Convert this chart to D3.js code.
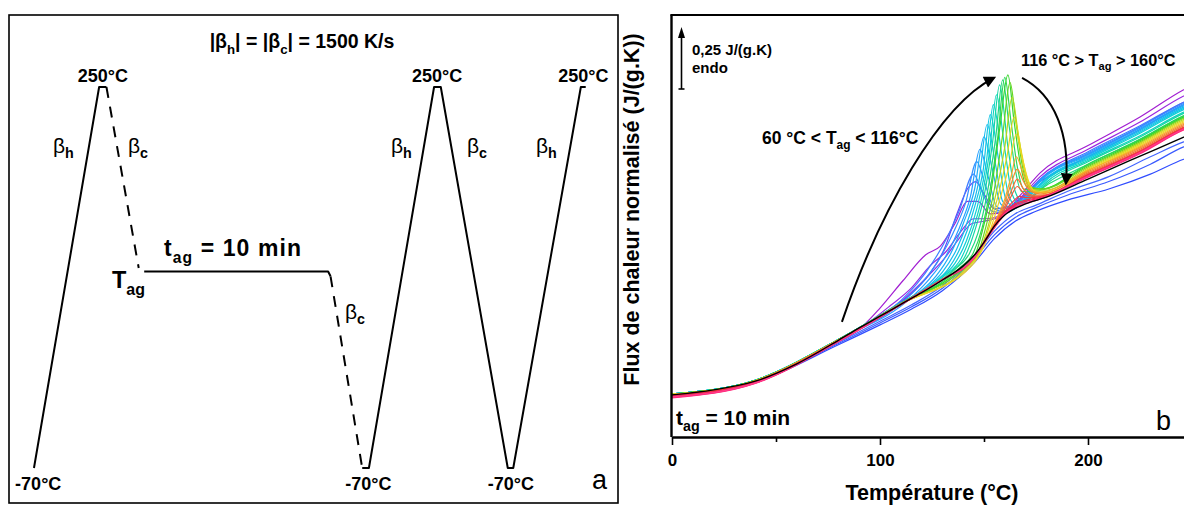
<!DOCTYPE html>
<html><head><meta charset="utf-8">
<script src="https://cdn.jsdelivr.net/npm/d3@7"></script>
<style>
html,body{margin:0;padding:0;background:#fff;}
svg{display:block;}
text{font-family:"Liberation Sans",Arial,sans-serif;}
</style></head>
<body>
<svg id="chart" width="1184" height="505"></svg>
<script>
// ---------------- DATA ----------------
// Panel a: thermal program (time in arbitrary units, temperature in °C)
const heat1 = [[4.1,-70],[14.8,250],[16.0,250]];
const cool1 = [[16.0,250],[21.3,98]];
const iso   = [[22.2,95],[52.4,95],[52.8,91]];
const cool2 = [[52.8,91],[58.0,-70]];
const cycles= [[58.0,-70],[59.1,-70],[69.8,250],[70.9,250],[81.9,-70],[82.8,-70],[93.9,250],[94.7,250]];
const peakLabels = [[15.4,250],[70.3,250],[94.3,250]];
const valleyLabels = [[4.8,-70],[59.0,-70],[82.4,-70]];

// Panel b: normalized heat flow J/(g.K) vs temperature °C
const xTicks = [0,100,200];
const xMinorTicks = [50,150];
const scaleBarValue = 0.25;

const refCurve = [[0,.17],[20,.19],[40,.225],[60,.295],[80,.39],[90,.44],[100,.487],[110,.535],[120,.582],[130,.633],[140,.69],[146,.74],[150,.785],[155,.85],[160,.895],[165,.922],[170,.94],[180,.967],[200,1.04],[220,1.114],[240,1.187],[260,1.26]];

const blueCurves = [
 [[0,.165],[40,.22],[80,.372],[100,.452],[115,.515],[130,.59],[145,.70],[155,.80],[165,.87],[175,.91],[190,.955],[210,1.0],[230,1.06],[246,1.12],[265,1.16]],
 [[0,.168],[40,.222],[80,.377],[100,.46],[115,.524],[130,.6],[145,.715],[155,.815],[165,.885],[175,.925],[190,.975],[210,1.03],[230,1.1],[246,1.17],[265,1.21]],
 [[0,.17],[40,.224],[80,.382],[100,.467],[115,.532],[130,.61],[145,.725],[155,.83],[165,.9],[175,.935],[190,.99],[210,1.05],[230,1.13],[246,1.19],[265,1.235]]
];
const purpleCurves = [
 [[0,.17],[40,.226],[80,.39],[92,.45],[100,.52],[111,.63],[122,.735],[129,.77],[136,.86],[142,.95],[147,.95],[153,.9],[160,.91],[168,.98],[177,1.065],[200,1.175],[225,1.29],[246,1.40],[265,1.47]],
 [[0,.17],[40,.226],[80,.39],[95,.465],[105,.53],[115,.6],[124,.69],[132,.75],[139,.83],[145,.88],[151,.88],[157,.89],[167,.96],[177,1.05],[200,1.16],[225,1.27],[246,1.375],[265,1.44]],
 [[0,.17],[40,.226],[80,.39],[100,.49],[112,.56],[122,.64],[131,.72],[138,.8],[144,.86],[150,.87],[157,.885],[167,.95],[177,1.04],[200,1.14],[225,1.25],[246,1.35],[265,1.41]],
 [[0,.17],[40,.226],[80,.39],[100,.49],[114,.57],[124,.66],[131,.76],[137,.9],[142,1.0],[146,1.03],[150,.98],[155,.92],[162,.93],[177,1.03],[200,1.13],[225,1.24],[246,1.34],[265,1.40]]
];
const cyanCurves = [
 [[0,.174],[40,.229],[80,.393],[110,.55],[118,.62],[125,.70],[132,.80],[138,.91],[145,1.06],[149,.99],[154,.91],[160,.905],[168,.96],[177,1.04],[200,1.15],[225,1.255],[246,1.35],[265,1.41]],
 [[0,.174],[40,.229],[80,.393],[113,.56],[121,.63],[128,.71],[135,.82],[141,.94],[146.5,1.11],[150.5,1.02],[155,.92],[161,.905],[169,.96],[177,1.035],[200,1.145],[225,1.25],[246,1.345],[265,1.405]],
 [[0,.174],[40,.229],[80,.393],[116,.57],[124,.64],[131,.72],[138,.84],[143.5,.97],[148,1.16],[152,1.05],[156,.93],[162,.91],[170,.965],[177,1.035],[200,1.14],[225,1.245],[246,1.34],[265,1.40]],
 [[0,.174],[40,.229],[80,.393],[110,.54],[119,.585],[127,.65],[134,.74],[140,.86],[145.5,1.0],[150,1.21],[154,1.08],[158,.94],[163,.915],[171,.97],[177,1.03],[200,1.135],[225,1.24],[246,1.335],[265,1.395]],
 [[0,.174],[40,.229],[80,.393],[110,.54],[122,.6],[130,.665],[137,.76],[142.5,.88],[147.5,1.03],[151.5,1.26],[155.5,1.1],[159,.95],[164,.92],[172,.975],[178,1.03],[200,1.13],[225,1.235],[246,1.33],[265,1.39]],
 [[0,.174],[40,.229],[80,.393],[110,.54],[125,.615],[133,.68],[139,.77],[144.5,.9],[149.5,1.07],[153,1.30],[157,1.12],[160.5,.96],[165,.925],[172,.97],[178,1.025],[200,1.125],[225,1.23],[246,1.325],[265,1.385]],
 [[0,.174],[40,.229],[80,.393],[110,.54],[128,.635],[136,.70],[141.5,.79],[146.5,.92],[151,1.1],[154.5,1.34],[158.5,1.14],[162,.97],[166,.93],[173,.97],[178,1.02],[200,1.12],[225,1.225],[246,1.32],[265,1.38]],
 [[0,.174],[40,.229],[80,.393],[110,.54],[131,.65],[139,.72],[143.5,.81],[148.5,.95],[152.5,1.14],[156,1.38],[160,1.16],[163.5,.98],[167,.94],[174,.975],[179,1.02],[200,1.115],[225,1.215],[246,1.31],[265,1.37]],
 [[0,.174],[40,.229],[80,.393],[110,.54],[134,.665],[141,.73],[145.5,.83],[150,.97],[154,1.18],[157.5,1.42],[161.5,1.17],[165,.99],[168.5,.95],[175,.98],[180,1.02],[200,1.11],[225,1.21],[246,1.305],[265,1.365]]
];
const greenCurves = [
 [[0,.173],[40,.228],[80,.392],[110,.537],[136,.675],[143,.74],[147,.82],[151.5,.98],[155.5,1.2],[159,1.44],[162,1.26],[165,1.08],[168,.99],[175,.99],[181,1.02],[200,1.1],[225,1.2],[246,1.295],[265,1.355]],
 [[0,.173],[40,.228],[80,.392],[110,.537],[138,.68],[145,.745],[149,.84],[153,1.0],[156.5,1.2],[160,1.45],[163,1.27],[166,1.09],[169,1.0],[176,.995],[200,1.1],[225,1.2],[246,1.295],[265,1.355]],
 [[0,.173],[40,.228],[80,.392],[110,.537],[140,.685],[146,.74],[149.5,.84],[153,.97],[157.5,1.24],[161.5,1.46],[164.5,1.27],[167.5,1.1],[170.5,1.01],[177,1.0],[200,1.095],[225,1.195],[246,1.29],[265,1.35]],
 [[0,.173],[40,.228],[80,.392],[110,.537],[141,.685],[147,.74],[151,.85],[155,1.0],[159,1.22],[162.5,1.43],[165.5,1.26],[168.5,1.09],[171.5,1.01],[178,1.0],[200,1.09],[225,1.19],[246,1.285],[265,1.345]]
];
const yellowCurves = [
 [[0,.172],[40,.227],[80,.391],[110,.536],[142,.685],[148,.75],[152,.85],[156,.99],[160,1.17],[163.5,1.37],[166.5,1.22],[169.5,1.07],[172.5,1.0],[179,.995],[200,1.085],[225,1.185],[246,1.28],[265,1.34]],
 [[0,.172],[40,.227],[80,.391],[110,.536],[143,.69],[149,.76],[153,.86],[157,.98],[161,1.13],[164.5,1.29],[167.5,1.17],[170.5,1.05],[173.5,.995],[180,.99],[200,1.08],[225,1.18],[246,1.275],[265,1.335]],
 [[0,.172],[40,.227],[80,.391],[110,.536],[144,.69],[150,.77],[154,.86],[158,.97],[162,1.09],[165.5,1.22],[168.5,1.12],[171.5,1.03],[174.5,.99],[181,.985],[200,1.075],[225,1.175],[246,1.27],[265,1.33]]
];
const orangeCurves = [
 [[0,.17],[40,.225],[80,.39],[110,.536],[130,.636],[145,.72],[151,.8],[156,.88],[160,.96],[163,1.05],[165.5,1.13],[168.5,1.07],[172,1.0],[176,.985],[200,1.075],[225,1.17],[246,1.265],[265,1.325]],
 [[0,.17],[40,.225],[80,.39],[110,.536],[130,.636],[145,.72],[151,.8],[156,.875],[160,.945],[163,1.02],[166,1.08],[169,1.03],[172.5,.99],[177,.98],[200,1.07],[225,1.165],[246,1.26],[265,1.32]],
 [[0,.17],[40,.225],[80,.39],[110,.536],[130,.636],[145,.72],[151,.8],[156,.87],[160,.93],[163,.99],[166,1.04],[169,1.0],[173,.975],[178,.975],[200,1.065],[225,1.16],[246,1.255],[265,1.315]],
 [[0,.17],[40,.225],[80,.39],[110,.536],[130,.636],[145,.72],[151,.8],[156,.865],[160,.92],[163,.97],[166,1.01],[169.5,.98],[174,.97],[180,.975],[200,1.06],[225,1.155],[246,1.25],[265,1.31]]
];
const redCurves = [
 [[0,.168],[40,.222],[80,.388],[110,.535],[130,.635],[145,.72],[151,.8],[156,.865],[160,.91],[164,.95],[167,.97],[171,.965],[178,.97],[200,1.058],[225,1.152],[246,1.248],[265,1.305]],
 [[0,.165],[40,.22],[80,.386],[110,.533],[130,.634],[145,.72],[151,.8],[156,.86],[160,.905],[165,.94],[170,.955],[178,.968],[200,1.055],[225,1.15],[246,1.245],[265,1.30]],
 [[0,.163],[40,.219],[80,.385],[110,.533],[130,.634],[145,.72],[151,.798],[156,.858],[160,.902],[165,.935],[170,.95],[178,.966],[200,1.053],[225,1.148],[246,1.243],[265,1.298]]
];
const pinkCurves = [
 [[0,.16],[40,.217],[80,.385],[110,.534],[130,.634],[145,.72],[151,.795],[156,.855],[160,.9],[166,.932],[172,.948],[180,.97],[200,1.05],[225,1.145],[246,1.24],[265,1.295]],
 [[0,.158],[40,.216],[80,.384],[110,.534],[130,.634],[145,.72],[151,.795],[156,.855],[160,.898],[166,.93],[172,.946],[180,.968],[200,1.048],[225,1.142],[246,1.238],[265,1.29]],
 [[0,.162],[40,.218],[80,.386],[110,.535],[130,.635],[145,.72],[151,.795],[156,.856],[160,.9],[166,.931],[172,.947],[180,.97],[200,1.052],[225,1.147],[246,1.242],[265,1.297]]
];
// annotation arrows, in data coordinates (°C, J/(g.K))
const arrowUp = [[81.7,.464],[100,.915],[128.8,1.339],[154.8,1.448]];
const arrowDown = [[168.3,1.448],[184.1,1.379],[191.3,1.218],[189.4,1.024]];

// ---------------- STYLES ----------------
const blueColors = ["#2f4cff","#3a5aff","#4466ff"];
const purpleColors = ["#a21fd2","#9a28e0","#8c30ea","#6a3cf5"];
const cyanColors = ["#3f7dff","#3390ff","#279fff","#1dadf7","#15baee","#10c5e4","#0fcfd6","#0dd3c0","#12d6a4"];
const greenColors = ["#1fd77e","#2cd756","#38d62e","#6ad61e"];
const yellowColors = ["#b6d81a","#dcd81e","#f0d424"];
const orangeColors = ["#f5aa28","#f58d2c","#f47232","#f45a38"];
const redColors = ["#f43c3c","#f42c4c","#f8205c"];
const pinkColors = ["#ff1e6a","#ff2a7a","#ff3c8c"];

const svg = d3.select("#chart");
svg.append("rect").attr("width",1184).attr("height",505).attr("fill","#fff");

const defs = svg.append("defs");
defs.append("marker").attr("id","ah").attr("viewBox","0 0 10 10").attr("refX",8).attr("refY",5)
  .attr("markerWidth",7).attr("markerHeight",6).attr("markerUnits","strokeWidth").attr("orient","auto")
  .append("path").attr("d","M0,0 L10,5 L0,10 Z").attr("fill","#000");
defs.append("clipPath").attr("id","plotclip").append("rect").attr("x",672).attr("y",16).attr("width",520).attr("height",421);

// helper: text with subscripts
function rich(g, x, y, parts, size, weight, anchor, opt){
  opt = opt || {};
  const subScale = opt.subScale || 0.68, subShift = opt.subShift || 0.3;
  const t = g.append("text").attr("x",x).attr("y",y).attr("font-size",size)
    .attr("font-weight",weight||"bold").attr("text-anchor",anchor||"start").attr("fill","#000");
  if (opt.spacing) t.attr("letter-spacing", opt.spacing);
  let shifted = 0;
  parts.forEach(p=>{
    const sub = p[1];
    const ts = t.append("tspan").text(p[0]);
    const target = sub ? size*subShift : 0;
    if (target !== shifted) { ts.attr("dy", target - shifted); shifted = target; }
    if (sub) { ts.attr("font-size", size*subScale); if (opt.subWeight) ts.attr("font-weight", opt.subWeight); }
  });
  return t;
}

// ================= PANEL A =================
const ga = svg.append("g");
ga.append("rect").attr("x",9).attr("y",15).attr("width",609).attr("height",488)
  .attr("fill","none").attr("stroke","#000").attr("stroke-width",1.6);

const tx = d3.scaleLinear().domain([0,100]).range([9,618]);
const ty = d3.scaleLinear().domain([-70,250]).range([468,87]);
const progLine = d3.line().x(d=>tx(d[0])).y(d=>ty(d[1]));

[heat1, iso, cycles].forEach(seg=>{
  ga.append("path").attr("d",progLine(seg)).attr("fill","none").attr("stroke","#000")
    .attr("stroke-width",2).attr("stroke-linejoin","round");
});
[cool1, cool2].forEach(seg=>{
  ga.append("path").attr("d",progLine(seg)).attr("fill","none").attr("stroke","#000")
    .attr("stroke-width",2).attr("stroke-dasharray","11,9");
});

rich(ga, 302, 48, [["|β"],["h",1],["| = |β"],["c",1],["| = 1500 K/s"]], 19.5, "bold", "middle");
peakLabels.forEach(d=>{
  ga.append("text").attr("x",tx(d[0])).attr("y",ty(d[1])-5).attr("text-anchor","middle")
    .attr("font-size",18).attr("font-weight","bold").text("250°C");
});
valleyLabels.forEach(d=>{
  ga.append("text").attr("x",tx(d[0])).attr("y",ty(d[1])+22).attr("text-anchor","middle")
    .attr("font-size",18).attr("font-weight","bold").text("-70°C");
});
const betaLabels = [[53,153,"h"],[128,153,"c"],[391,153,"h"],[467,153,"c"],[536,153,"h"],[345,319,"c"]];
betaLabels.forEach(b=>{
  rich(ga, b[0], b[1], [["β"],[b[2],1]], 21, "normal", "start", {subScale:0.68, subShift:0.24, subWeight:"bold"});
});
rich(ga, 164, 256, [["t"],["ag",1],[" = 10 min"]], 23, "bold", "start", {spacing:1.1});
rich(ga, 112, 288, [["T"],["ag",1]], 23.5, "bold");
ga.append("text").attr("x",592).attr("y",489).attr("font-size",27).attr("font-family","'Open Sans',sans-serif").text("a");

// ================= PANEL B =================
const gb = svg.append("g");
const x = d3.scaleLinear().domain([0,250]).range([672,1192]);
const y = d3.scaleLinear().domain([0,1.7]).range([437,15.4]);
const line = d3.line().x(d=>x(d[0])).y(d=>y(d[1])).curve(d3.curveMonotoneX);

const curves = gb.append("g").attr("clip-path","url(#plotclip)");
const groups = [
  [blueCurves, blueColors],[purpleCurves, purpleColors],[cyanCurves, cyanColors],
  [greenCurves, greenColors],[yellowCurves, yellowColors],[orangeCurves, orangeColors],
  [redCurves, redColors],[pinkCurves, pinkColors]
];
groups.forEach(([data, cols])=>{
  data.forEach((c,i)=>{
    curves.append("path").attr("d",line(c)).attr("fill","none").attr("stroke",cols[i])
      .attr("stroke-width",1.2).attr("stroke-linejoin","round");
  });
});
curves.append("path").attr("d",line(refCurve)).attr("fill","none").attr("stroke","#000").attr("stroke-width",1.4);

// frame
gb.append("line").attr("x1",671.5).attr("x2",671.5).attr("y1",14.5).attr("y2",437).attr("stroke","#000").attr("stroke-width",2.4);
gb.append("line").attr("x1",670.5).attr("x2",1184).attr("y1",15).attr("y2",15).attr("stroke","#000").attr("stroke-width",2);

// x axis
const axG = gb.append("g").attr("transform","translate(0,437)");
axG.call(d3.axisBottom(x).tickValues(xTicks).tickSize(8).tickSizeOuter(0).tickPadding(9).tickFormat(d3.format("d")));
axG.select(".domain").attr("stroke-width",2.4);
axG.selectAll(".tick line").attr("stroke-width",1.6);
axG.selectAll(".tick text").attr("font-size",17).attr("font-weight","bold")
  .attr("font-family","'Liberation Sans',Arial,sans-serif");
const axMinor = gb.append("g").attr("transform","translate(0,437)");
axMinor.call(d3.axisBottom(x).tickValues(xMinorTicks).tickSize(5).tickSizeOuter(0).tickFormat(""));
axMinor.select(".domain").remove();
axMinor.selectAll(".tick line").attr("stroke-width",1.6);

gb.append("text").attr("x",932).attr("y",500).attr("text-anchor","middle")
  .attr("font-size",21.5).attr("font-weight","bold").text("Température (°C)");
gb.append("text").attr("transform","translate(639,209.5) rotate(-90)").attr("text-anchor","middle")
  .attr("font-size",21.5).attr("font-weight","bold").text("Flux de chaleur normalisé (J/(g.K))");

// scale bar
const barBottom = 89;
const barLen = y(0) - y(scaleBarValue);
gb.append("line").attr("x1",681.5).attr("x2",681.5).attr("y1",barBottom).attr("y2",barBottom-barLen+9)
  .attr("stroke","#000").attr("stroke-width",1.6);
gb.append("path").attr("d",`M681.5,${barBottom-barLen} L685,${barBottom-barLen+11} L678,${barBottom-barLen+11} Z`).attr("fill","#000");
gb.append("line").attr("x1",678.5).attr("x2",684.5).attr("y1",barBottom).attr("y2",barBottom).attr("stroke","#000").attr("stroke-width",1.6);
gb.append("text").attr("x",692).attr("y",55).attr("font-size",15).attr("font-weight","bold").text("0,25 J/(g.K)");
gb.append("text").attr("x",692).attr("y",73).attr("font-size",15).attr("font-weight","bold").text("endo");

// arrows
const bez = pts => `M${x(pts[0][0])},${y(pts[0][1])} C${x(pts[1][0])},${y(pts[1][1])} ${x(pts[2][0])},${y(pts[2][1])} ${x(pts[3][0])},${y(pts[3][1])}`;
gb.append("path").attr("d",bez(arrowUp)).attr("fill","none").attr("stroke","#000").attr("stroke-width",2).attr("marker-end","url(#ah)");
gb.append("path").attr("d",bez(arrowDown)).attr("fill","none").attr("stroke","#000").attr("stroke-width",2).attr("marker-end","url(#ah)");

rich(gb, 762, 144, [["60 °C < T"],["ag",1],[" < 116°C"]], 17.5, "bold");
rich(gb, 1021, 65.5, [["116 °C > T"],["ag",1],[" > 160°C"]], 16.3, "bold");
rich(gb, 676, 425, [["t"],["ag",1],[" = 10 min"]], 21, "bold");
gb.append("text").attr("x",1156).attr("y",430).attr("font-size",27).attr("font-family","'Open Sans',sans-serif").text("b");
</script>
</body></html>
